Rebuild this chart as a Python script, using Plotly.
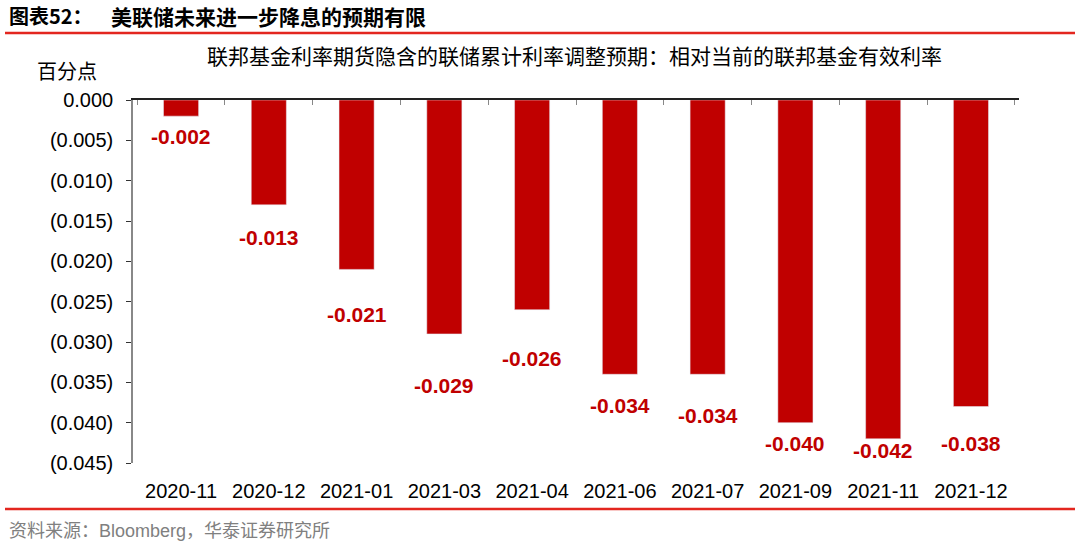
import plotly.graph_objects as go

categories = ["2020-11", "2020-12", "2021-01", "2021-03", "2021-04",
              "2021-06", "2021-07", "2021-09", "2021-11", "2021-12"]
values = [-0.002, -0.013, -0.021, -0.029, -0.026, -0.034, -0.034, -0.040, -0.042, -0.038]
tick_vals = [0, -0.005, -0.010, -0.015, -0.020, -0.025, -0.030, -0.035, -0.040, -0.045]
tick_text = ["0.000", "(0.005)", "(0.010)", "(0.015)", "(0.020)", "(0.025)",
             "(0.030)", "(0.035)", "(0.040)", "(0.045)"]

title_left = "图表52："
title_main = "美联储未来进一步降息的预期有限"
subtitle = "联邦基金利率期货隐含的联储累计利率调整预期：相对当前的联邦基金有效利率"
unit = "百分点"
source = "资料来源：Bloomberg，华泰证券研究所"

# layout: pixel centre (from top of figure) of each data label, as placed in the original
label_center_px = [136, 237, 314, 385, 358, 405, 415, 443, 450, 443]

BAR = "#C00000"
CJK = "Noto Sans CJK SC"
LAT = "Liberation Sans, Arial"
MIX = "Liberation Sans, Noto Sans CJK SC"

PLOT_TOP, PLOT_H, PLOT_L, PLOT_W = 100, 363, 133, 886
Y_MIN = -0.045


def px_to_y(py):
    return Y_MIN * (py - PLOT_TOP) / PLOT_H


def px_x(px):
    return (px - PLOT_L) / PLOT_W


def px_yp(py):
    return 1 - (py - PLOT_TOP) / PLOT_H


fig = go.Figure()
fig.add_trace(go.Bar(x=categories, y=values, marker_color=BAR, width=0.4,
                     hoverinfo="x+y"))
fig.add_trace(go.Scatter(x=categories, y=values, xaxis="x2", mode="markers",
                         marker=dict(opacity=0), hoverinfo="skip", showlegend=False))

for c, v, py in zip(categories, values, label_center_px):
    fig.add_annotation(x=c, y=px_to_y(py), text=f"<b>{v:.3f}</b>", showarrow=False,
                       yanchor="middle",
                       font=dict(family=LAT, size=21, color=BAR))

fig.update_layout(
    width=1080, height=554,
    margin=dict(l=PLOT_L, r=1080 - PLOT_L - PLOT_W, t=PLOT_TOP, b=554 - PLOT_TOP - PLOT_H),
    paper_bgcolor="white", plot_bgcolor="white",
    showlegend=False,
    bargap=0.6,
    xaxis=dict(type="category", categoryorder="array", categoryarray=categories,
               showline=False, ticks="", showgrid=False, ticklabelstandoff=14,
               tickfont=dict(family=LAT, size=20, color="black")),
    xaxis2=dict(type="category", categoryorder="array", categoryarray=categories,
                overlaying="x", matches="x", side="top", showline=True,
                linecolor="#222222", linewidth=1.5, ticks="inside", ticklen=5,
                tickcolor="#888888", tickson="boundaries", showticklabels=False,
                showgrid=False),
    yaxis=dict(range=[Y_MIN, 0], tickvals=tick_vals, ticktext=tick_text,
               showline=True, linecolor="#888888", linewidth=1.5,
               ticks="outside", ticklen=5, tickcolor="#333333",
               showgrid=False, zeroline=False, ticklabelstandoff=9,
               tickfont=dict(family=LAT, size=20, color="black")),
)

# header / footer
fig.add_annotation(xref="paper", yref="paper", x=px_x(7), y=px_yp(16),
                   xanchor="left", yanchor="middle", showarrow=False,
                   text="<b>" + title_left + "</b>",
                   font=dict(family=CJK, size=20, color="black"))
fig.add_annotation(xref="paper", yref="paper", x=px_x(109), y=px_yp(16),
                   xanchor="left", yanchor="middle", showarrow=False,
                   text="<b>" + title_main + "</b>",
                   font=dict(family=CJK, size=21, color="black"))
fig.add_shape(type="line", xref="paper", yref="paper",
              x0=px_x(5), x1=px_x(1075), y0=px_yp(33), y1=px_yp(33),
              line=dict(color="#E3261F", width=2.5))
fig.add_annotation(xref="paper", yref="paper", x=px_x(574), y=px_yp(55),
                   xanchor="center", yanchor="middle", showarrow=False,
                   text=subtitle, font=dict(family=CJK, size=21, color="black"))
fig.add_annotation(xref="paper", yref="paper", x=px_x(67), y=px_yp(71),
                   xanchor="center", yanchor="middle", showarrow=False,
                   text=unit, font=dict(family=CJK, size=20, color="black"))
fig.add_shape(type="line", xref="paper", yref="paper",
              x0=px_x(5), x1=px_x(1075), y0=px_yp(509), y1=px_yp(509),
              line=dict(color="#E3261F", width=2.5))
fig.add_annotation(xref="paper", yref="paper", x=px_x(7), y=px_yp(531),
                   xanchor="left", yanchor="middle", showarrow=False,
                   text=source, font=dict(family=MIX, size=18, color="#808080"))

fig.write_html("out.html")
